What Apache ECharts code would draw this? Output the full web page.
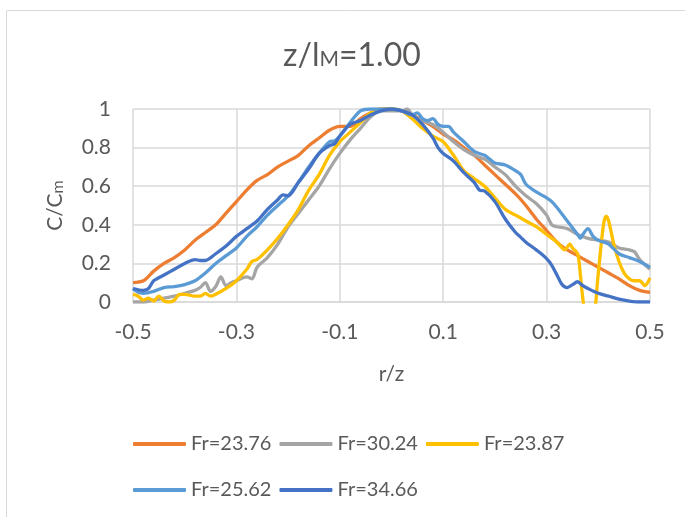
<!DOCTYPE html>
<html>
<head>
<meta charset="utf-8">
<script src="https://cdn.jsdelivr.net/npm/echarts@6/dist/echarts.min.js"></script>
<style>
  html, body { margin: 0; padding: 0; background: #fff; }
  #chart { width: 685px; height: 517px; }
</style>
</head>
<body>
<div id="chart"></div>
<script>
// Radial concentration profiles C/Cm against r/z at z/lM = 1.00

const seriesNames = ['Fr=23.76', 'Fr=30.24', 'Fr=23.87', 'Fr=25.62', 'Fr=34.66'];
const seriesColors = ['#ED7D31', '#A5A5A5', '#FFC000', '#5B9BD5', '#4472C4'];

const xTicks = [-0.5, -0.3, -0.1, 0.1, 0.3, 0.5];
const yTicks = [0, 0.2, 0.4, 0.6, 0.8, 1];

// [r/z, C/Cm]
const fr2376 = [
  [-0.50, 0.10], [-0.48, 0.11], [-0.46, 0.16], [-0.44, 0.20], [-0.42, 0.23],
  [-0.40, 0.27], [-0.38, 0.32], [-0.36, 0.36], [-0.34, 0.40], [-0.32, 0.46],
  [-0.30, 0.52], [-0.28, 0.58], [-0.26, 0.63], [-0.24, 0.66], [-0.22, 0.70],
  [-0.20, 0.73], [-0.18, 0.76], [-0.16, 0.81], [-0.14, 0.85], [-0.12, 0.89],
  [-0.10, 0.91], [-0.08, 0.91], [-0.06, 0.95], [-0.04, 0.98], [-0.02, 1.00],
  [0.00, 1.00], [0.02, 0.99], [0.04, 0.97], [0.06, 0.94], [0.08, 0.91],
  [0.10, 0.87], [0.12, 0.84], [0.14, 0.80], [0.16, 0.76], [0.18, 0.71],
  [0.20, 0.66], [0.22, 0.61], [0.24, 0.56], [0.26, 0.50], [0.28, 0.43],
  [0.30, 0.37], [0.32, 0.31], [0.34, 0.27], [0.36, 0.24], [0.38, 0.21],
  [0.40, 0.18], [0.42, 0.15], [0.44, 0.12], [0.46, 0.085], [0.48, 0.06],
  [0.50, 0.05]
];

const fr3024 = [
  [-0.50, 0.00], [-0.48, 0.00], [-0.46, 0.01], [-0.44, 0.02], [-0.42, 0.03],
  [-0.40, 0.045], [-0.38, 0.06], [-0.37, 0.075], [-0.36, 0.10], [-0.35, 0.055],
  [-0.34, 0.08], [-0.33, 0.13], [-0.32, 0.085], [-0.31, 0.10], [-0.30, 0.11],
  [-0.28, 0.13], [-0.27, 0.12], [-0.26, 0.18], [-0.24, 0.23], [-0.22, 0.30],
  [-0.20, 0.39], [-0.18, 0.46], [-0.16, 0.53], [-0.14, 0.60], [-0.12, 0.69],
  [-0.10, 0.77], [-0.08, 0.84], [-0.06, 0.90], [-0.04, 0.96], [-0.02, 0.99],
  [0.00, 0.99], [0.02, 0.99], [0.03, 1.00], [0.04, 0.97], [0.06, 0.94],
  [0.08, 0.92], [0.10, 0.88], [0.12, 0.83], [0.14, 0.79], [0.16, 0.76],
  [0.18, 0.74], [0.20, 0.70], [0.22, 0.66], [0.24, 0.60], [0.26, 0.55],
  [0.28, 0.51], [0.30, 0.45], [0.31, 0.40], [0.32, 0.39], [0.34, 0.38],
  [0.36, 0.35], [0.38, 0.33], [0.40, 0.32], [0.42, 0.31], [0.44, 0.28],
  [0.46, 0.27], [0.47, 0.26], [0.48, 0.22], [0.50, 0.17]
];

const fr2387 = [
  [-0.50, 0.04], [-0.49, 0.03], [-0.48, 0.01], [-0.47, 0.02], [-0.46, 0.005],
  [-0.45, 0.03], [-0.44, 0.005], [-0.43, 0.00], [-0.42, 0.01], [-0.41, 0.04],
  [-0.40, 0.04], [-0.38, 0.03], [-0.37, 0.03], [-0.36, 0.045], [-0.35, 0.03],
  [-0.34, 0.04], [-0.32, 0.07], [-0.30, 0.11], [-0.28, 0.17], [-0.27, 0.21],
  [-0.26, 0.22], [-0.24, 0.27], [-0.22, 0.33], [-0.20, 0.40], [-0.18, 0.48],
  [-0.16, 0.58], [-0.14, 0.66], [-0.12, 0.76], [-0.10, 0.83], [-0.08, 0.88],
  [-0.06, 0.93], [-0.04, 0.98], [-0.02, 1.00], [0.00, 1.00], [0.02, 0.99],
  [0.04, 0.95], [0.06, 0.90], [0.08, 0.86], [0.10, 0.83], [0.12, 0.76],
  [0.14, 0.68], [0.16, 0.64], [0.18, 0.60], [0.20, 0.54], [0.22, 0.48],
  [0.24, 0.45], [0.26, 0.42], [0.28, 0.39], [0.30, 0.35], [0.32, 0.31],
  [0.33, 0.28], [0.335, 0.27], [0.345, 0.30], [0.35, 0.28], [0.36, 0.25],
  [0.365, 0.15], [0.37, 0.02], [0.38, -0.15], [0.39, -0.12], [0.40, 0.15],
  [0.41, 0.40], [0.415, 0.445], [0.42, 0.42], [0.43, 0.30], [0.44, 0.21],
  [0.45, 0.15], [0.46, 0.12], [0.47, 0.11], [0.48, 0.11], [0.49, 0.085],
  [0.50, 0.125]
];

const fr2562 = [
  [-0.50, 0.07], [-0.49, 0.05], [-0.48, 0.045], [-0.46, 0.055], [-0.44, 0.075],
  [-0.42, 0.08], [-0.40, 0.09], [-0.38, 0.11], [-0.36, 0.15], [-0.34, 0.20],
  [-0.32, 0.24], [-0.30, 0.28], [-0.28, 0.34], [-0.26, 0.39], [-0.24, 0.45],
  [-0.22, 0.50], [-0.20, 0.55], [-0.18, 0.62], [-0.16, 0.70], [-0.14, 0.77],
  [-0.12, 0.83], [-0.11, 0.835], [-0.10, 0.86], [-0.08, 0.93], [-0.06, 0.99],
  [-0.04, 1.00], [-0.02, 1.00], [0.00, 1.00], [0.02, 0.99], [0.04, 0.97],
  [0.05, 0.98], [0.06, 0.95], [0.07, 0.94], [0.08, 0.95], [0.09, 0.92],
  [0.10, 0.91], [0.11, 0.91], [0.12, 0.88], [0.14, 0.83], [0.16, 0.78],
  [0.18, 0.76], [0.19, 0.74], [0.20, 0.72], [0.22, 0.71], [0.24, 0.68],
  [0.25, 0.66], [0.26, 0.61], [0.28, 0.57], [0.30, 0.54], [0.31, 0.52],
  [0.32, 0.49], [0.34, 0.42], [0.36, 0.35], [0.365, 0.33], [0.37, 0.35],
  [0.38, 0.38], [0.39, 0.34], [0.40, 0.32], [0.42, 0.30], [0.44, 0.25],
  [0.46, 0.23], [0.48, 0.21], [0.50, 0.18]
];

const fr3466 = [
  [-0.50, 0.07], [-0.48, 0.06], [-0.47, 0.07], [-0.46, 0.11], [-0.44, 0.14],
  [-0.42, 0.17], [-0.40, 0.20], [-0.38, 0.22], [-0.37, 0.215], [-0.36, 0.215],
  [-0.34, 0.25], [-0.32, 0.29], [-0.30, 0.34], [-0.28, 0.38], [-0.26, 0.42],
  [-0.24, 0.48], [-0.22, 0.53], [-0.21, 0.555], [-0.20, 0.55], [-0.18, 0.62],
  [-0.16, 0.69], [-0.14, 0.77], [-0.12, 0.81], [-0.11, 0.82], [-0.10, 0.86],
  [-0.08, 0.92], [-0.06, 0.94], [-0.04, 0.97], [-0.02, 0.99], [0.00, 1.00],
  [0.02, 0.99], [0.04, 0.97], [0.06, 0.92], [0.08, 0.85], [0.09, 0.80],
  [0.10, 0.77], [0.12, 0.73], [0.14, 0.67], [0.16, 0.62], [0.17, 0.58],
  [0.18, 0.575], [0.20, 0.52], [0.22, 0.43], [0.24, 0.36], [0.25, 0.335],
  [0.26, 0.31], [0.28, 0.27], [0.30, 0.225], [0.31, 0.19], [0.32, 0.14],
  [0.33, 0.09], [0.34, 0.075], [0.35, 0.09], [0.36, 0.105], [0.37, 0.085],
  [0.38, 0.07], [0.40, 0.045], [0.42, 0.03], [0.44, 0.015], [0.46, 0.005],
  [0.48, 0.00], [0.50, 0.00]
];

const seriesData = [fr2376, fr3024, fr2387, fr2562, fr3466];

const FONT = 'Lato, "Open Sans", sans-serif';
const TEXT = '#595959';
const GRIDLINE = '#D9D9D9';
const LABEL_SIZE = 21;

const legendBase = {
  left: 133,
  padding: 0,
  orient: 'horizontal',
  itemWidth: 53, itemHeight: 4, itemGap: 8,
  icon: 'roundRect',
  textStyle: { fontFamily: FONT, fontSize: 20, color: TEXT }
};

const chart = echarts.init(document.getElementById('chart'), null, { renderer: 'canvas' });

chart.setOption({
  animation: false,
  backgroundColor: '#fff',
  textStyle: { fontFamily: FONT, color: TEXT },
  graphic: [{
    type: 'rect',
    shape: { x: 6.5, y: 10.5, width: 720, height: 540 },
    style: { fill: 'none', stroke: '#D9D9D9', lineWidth: 1 },
    silent: true
  }],
  title: {
    text: '{a|z/l}{s|M}{a|=1.00}',
    left: 278,
    top: 35,
    textStyle: {
      fontWeight: 'normal',
      rich: {
        a: { fontFamily: FONT, fontSize: 32, fontWeight: 'normal', color: TEXT, verticalAlign: 'bottom' },
        s: { fontFamily: FONT, fontSize: 21, fontWeight: 'normal', color: TEXT, verticalAlign: 'bottom', padding: [0, 0, 2, 0] }
      }
    }
  },
  legend: [
    Object.assign({ id: 'row1', data: seriesNames.slice(0, 3), top: 434 }, legendBase),
    Object.assign({ id: 'row2', data: seriesNames.slice(3), top: 480 }, legendBase)
  ],
  grid: { left: 133, right: 35, top: 109, bottom: 215, containLabel: false },
  xAxis: {
    type: 'value',
    min: xTicks[0], max: xTicks[xTicks.length - 1], interval: 0.2,
    name: 'r/z', nameLocation: 'middle', nameGap: 62,
    nameTextStyle: { fontFamily: FONT, fontSize: LABEL_SIZE, color: TEXT },
    axisLine: { show: true, onZero: false, lineStyle: { color: GRIDLINE, width: 1.5 } },
    axisTick: { show: false },
    axisLabel: {
      margin: 20, fontFamily: FONT, fontSize: LABEL_SIZE, color: TEXT,
      formatter: v => String(Math.round(v * 10) / 10)
    },
    splitLine: { show: true, lineStyle: { color: GRIDLINE, width: 1.5 } }
  },
  yAxis: {
    type: 'value',
    min: yTicks[0], max: yTicks[yTicks.length - 1], interval: 0.2,
    name: '{a|C/C}{s|m}', nameLocation: 'middle', nameGap: 67,
    nameTextStyle: {
      rich: {
        a: { fontFamily: FONT, fontSize: LABEL_SIZE, color: TEXT, verticalAlign: 'bottom' },
        s: { fontFamily: FONT, fontSize: 16, color: TEXT, verticalAlign: 'bottom' }
      }
    },
    axisLine: { show: false },
    axisTick: { show: false },
    axisLabel: {
      margin: 22, fontFamily: FONT, fontSize: LABEL_SIZE, color: TEXT,
      formatter: v => String(Math.round(v * 10) / 10)
    },
    splitLine: { show: true, lineStyle: { color: GRIDLINE, width: 1.5 } }
  },
  series: seriesNames.map((name, i) => ({
    name,
    type: 'line',
    data: seriesData[i],
    showSymbol: false,
    symbol: 'none',
    smooth: 0.3,
    clip: true,
    color: seriesColors[i],
    lineStyle: { color: seriesColors[i], width: 3.3 },
    z: 2 + i
  }))
});
</script>
</body>
</html>
